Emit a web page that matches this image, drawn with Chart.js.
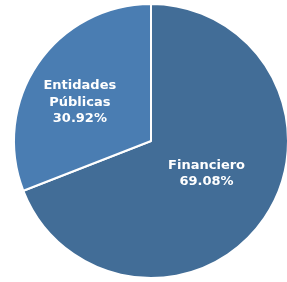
<!DOCTYPE html>
<html>
<head>
<meta charset="utf-8">
<script src="https://cdn.jsdelivr.net/npm/chart.js@4"></script>
<style>
  html, body { margin: 0; padding: 0; background: #fff; overflow: hidden; }
  .wrap { position: relative; width: 302px; height: 282px; }
</style>
</head>
<body>
<div class="wrap"><canvas id="pie"></canvas></div>
<script>
// datos
const categorias = ['Financiero', 'Entidades Públicas'];
const etiquetas = [['Financiero'], ['Entidades', 'Públicas']];
const valores = [69.08, 30.92];
const colores = ['#426d97', '#4a7db2'];

// posición de las etiquetas: fracción del radio y giro en grados
const labelRadio = [0.47, 0.59];
const labelGiro = [-4, -6];

const sliceLabels = {
    id: 'sliceLabels',
    afterDatasetsDraw(chart) {
        const ctx = chart.ctx;
        const meta = chart.getDatasetMeta(0);
        ctx.save();
        ctx.fillStyle = '#ffffff';
        ctx.font = 'bold 13px "DejaVu Sans", Verdana, sans-serif';
        ctx.textAlign = 'center';
        ctx.textBaseline = 'middle';
        meta.data.forEach((arc, i) => {
            const mid = (arc.startAngle + arc.endAngle) / 2 + labelGiro[i] * Math.PI / 180;
            const r = arc.outerRadius * labelRadio[i];
            const cx = arc.x + Math.cos(mid) * r;
            const cy = arc.y + Math.sin(mid) * r;
            const lines = etiquetas[i].concat([valores[i].toFixed(2) + '%']);
            const lh = 16.5;
            const y0 = cy - (lines.length - 1) * lh / 2;
            lines.forEach((t, k) => ctx.fillText(t, cx, y0 + k * lh));
        });
        ctx.restore();
    }
};

new Chart(document.getElementById('pie'), {
    type: 'pie',
    data: {
        labels: categorias,
        datasets: [{
            data: valores,
            backgroundColor: colores,
            borderColor: '#ffffff',
            borderWidth: 2
        }]
    },
    options: {
        responsive: true,
        maintainAspectRatio: false,
        animation: false,
        layout: { padding: 3 },
        plugins: {
            legend: { display: false },
            tooltip: { enabled: false }
        }
    },
    plugins: [sliceLabels]
});
</script>
</body>
</html>
